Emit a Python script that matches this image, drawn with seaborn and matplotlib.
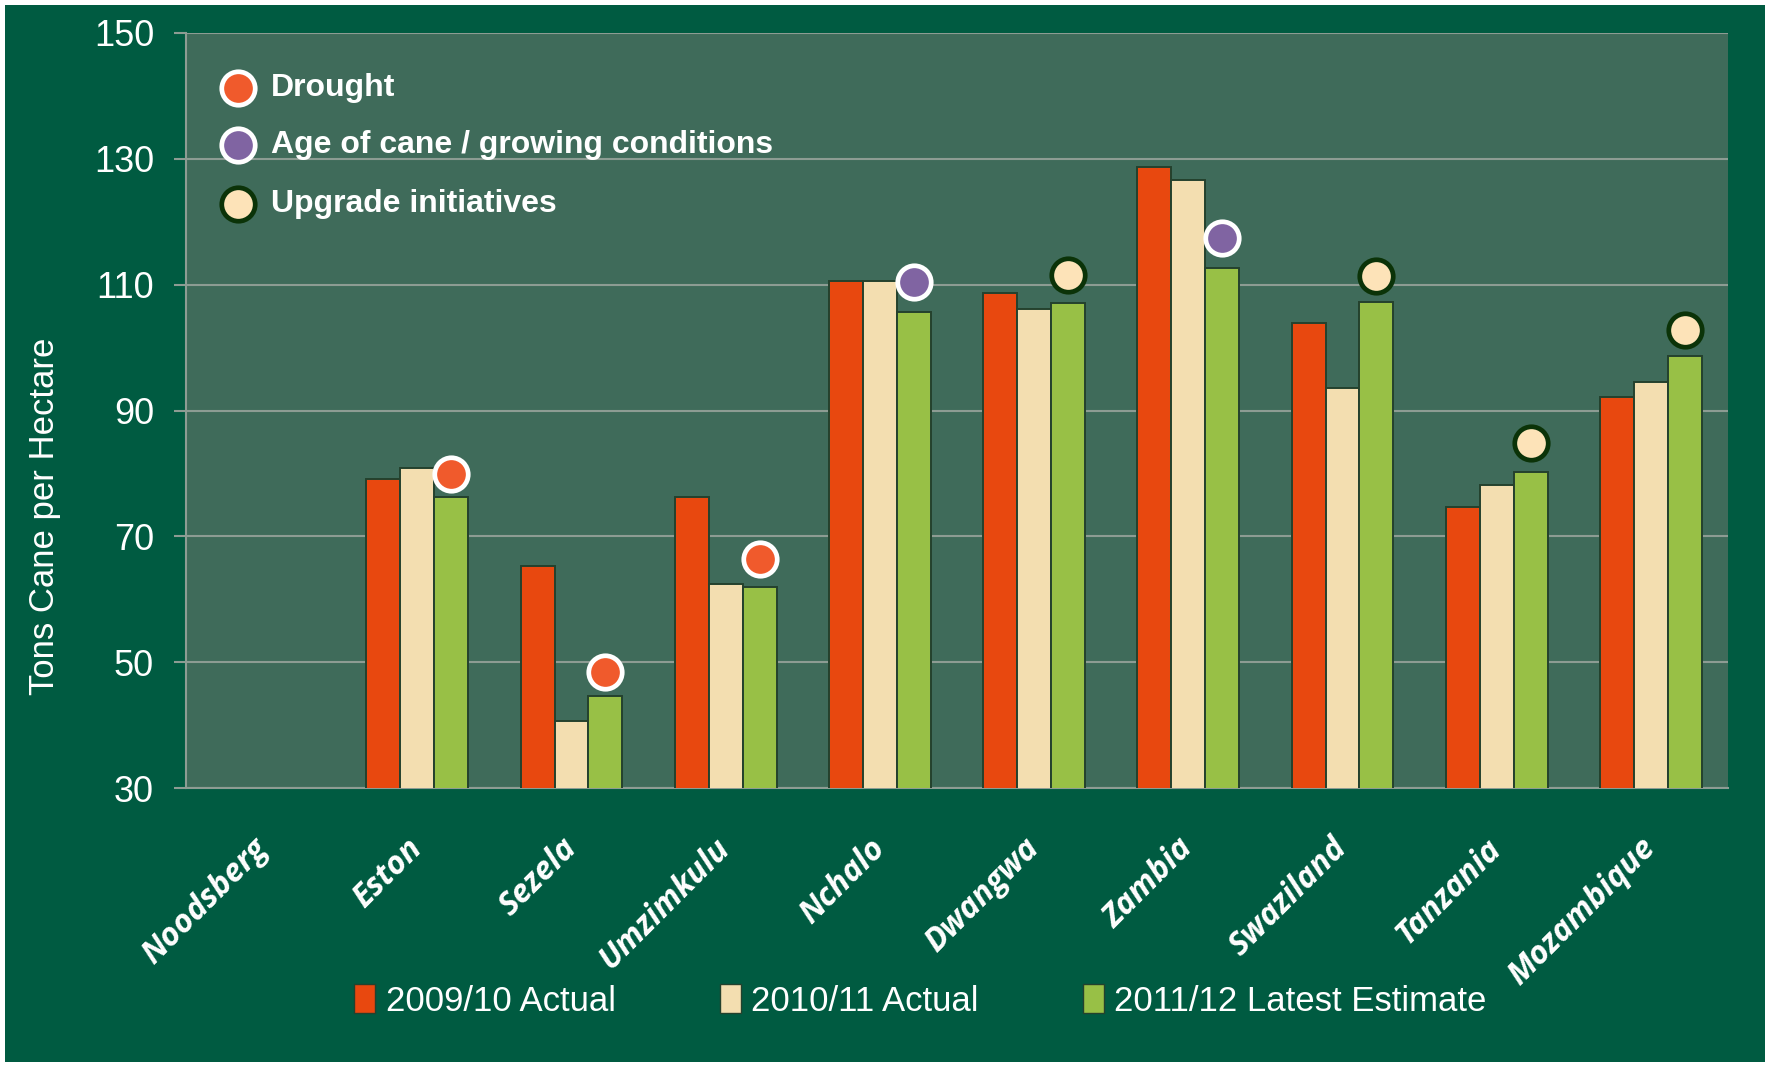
import numpy as np
import pandas as pd
import matplotlib
matplotlib.use("Agg")
import matplotlib.pyplot as plt
import matplotlib.transforms as mtransforms
import seaborn as sns
from matplotlib.patches import Rectangle, Patch

categories = ["Noodsberg", "Eston", "Sezela", "Umzimkulu", "Nchalo", "Dwangwa",
              "Zambia", "Swaziland", "Tanzania", "Mozambique"]
series_names = ["2009/10 Actual", "2010/11 Actual", "2011/12 Latest Estimate"]
actual_0910 = [np.nan, 79.1, 65.3, 76.3, 110.6, 108.6, 128.7, 103.9, 74.7, 92.2]
actual_1011 = [np.nan, 80.9, 40.6, 62.5, 110.6, 106.2, 126.7, 93.5, 78.1, 94.6]
estimate_1112 = [np.nan, 76.3, 44.7, 61.9, 105.7, 107.1, 112.7, 107.3, 80.2, 98.7]

marker_labels = ["Drought", "Age of cane / growing conditions", "Upgrade initiatives"]
marker_cats = ["Eston", "Sezela", "Umzimkulu", "Nchalo", "Dwangwa", "Zambia",
               "Swaziland", "Tanzania", "Mozambique"]
marker_vals = [79.9, 48.5, 66.4, 110.5, 111.6, 117.4, 111.4, 84.9, 102.8]
marker_kind = ["Drought", "Drought", "Drought", "Age of cane / growing conditions",
               "Upgrade initiatives", "Age of cane / growing conditions",
               "Upgrade initiatives", "Upgrade initiatives", "Upgrade initiatives"]

y_ticks = [30, 50, 70, 90, 110, 130, 150]

bar_colors = ["#e8480f", "#f3deb0", "#98c046"]
marker_style = {
    "Drought": ("#f05a2c", "white"),
    "Age of cane / growing conditions": ("#8064a2", "white"),
    "Upgrade initiatives": ("#fde3b8", "#0b3308"),
}

OUTER = "#005b41"
PLOT_BG = "#3f6b5a"
GRID = "#8d9c93"
NARROW = ["Liberation Sans Narrow", "Liberation Sans", "DejaVu Sans"]

sns.set_theme(style="white")
plt.rcParams["font.family"] = ["Liberation Sans", "DejaVu Sans"]

df = pd.DataFrame({
    "category": categories * 3,
    "series": sum([[s] * len(categories) for s in series_names], []),
    "value": actual_0910 + actual_1011 + estimate_1112,
})

fig = plt.figure(figsize=(17.7, 10.67), dpi=100, facecolor="white")
fig.patches.append(Rectangle((5 / 1770, 5 / 1067), 1 - 10 / 1770, 1 - 10 / 1067,
                             transform=fig.transFigure, facecolor=OUTER,
                             edgecolor="none", zorder=-10))
ax = fig.add_axes([186 / 1770, 1 - 788 / 1067, 1542 / 1770, 755 / 1067])
ax.set_facecolor(PLOT_BG)

sns.barplot(data=df, x="category", y="value", hue="series", order=categories,
            hue_order=series_names, palette=bar_colors, saturation=1,
            width=0.66, gap=0, edgecolor="#24412d", linewidth=1.4, ax=ax,
            legend=False, zorder=3)

# markers above the third bar in each group
offset = 0.22
for cat, val, kind in zip(marker_cats, marker_vals, marker_kind):
    fc, ec = marker_style[kind]
    ax.scatter(categories.index(cat) + offset, val, s=580, c=fc, edgecolors=ec,
               linewidths=3.4, zorder=5)

ax.set_ylim(30, 150)
ax.set_xlim(-0.5, len(categories) - 0.5)
ax.set_yticks(y_ticks)
ax.set_yticklabels([str(t) for t in y_ticks], color="white", fontsize=26,
                   family=NARROW)
ax.yaxis.grid(True, color=GRID, linewidth=1.5, zorder=0)
ax.set_axisbelow(True)

ax.set_xticks(range(len(categories)))
ax.set_xticklabels(categories, rotation=45, ha="right", va="center",
                   rotation_mode="anchor", color="white", fontsize=23,
                   fontweight="bold", fontstyle="italic",
                   family=["Open Sans", "DejaVu Sans"])
shift = mtransforms.ScaledTranslation(8 / 100, 0, fig.dpi_scale_trans)
for lbl in ax.get_xticklabels():
    lbl.set_transform(lbl.get_transform() + shift)
ax.set_xticks(np.arange(-0.5, len(categories)), minor=True)
ax.tick_params(axis="x", which="major", length=0, pad=40)
ax.tick_params(axis="x", which="minor", length=9, width=1.5, color=GRID,
               direction="out")
ax.tick_params(axis="y", length=9, width=1.5, color=GRID, direction="out", pad=14)
ax.tick_params(left=True, bottom=True)

for side in ["top", "right"]:
    ax.spines[side].set_visible(False)
for side in ["left", "bottom"]:
    ax.spines[side].set_color(GRID)
    ax.spines[side].set_linewidth(1.5)

ax.set_xlabel("")
ax.set_ylabel("Tons Cane per Hectare", color="white", fontsize=25,
              family=NARROW)
ax.yaxis.set_label_coords(-0.081, 0.36)

# marker key at top-left
key_y = [0.927, 0.851, 0.774]
for lbl, yk in zip(marker_labels, key_y):
    fc, ec = marker_style[lbl]
    ax.scatter(0.034, yk, s=580, c=fc, edgecolors=ec, linewidths=3.4,
               transform=ax.transAxes, zorder=6, clip_on=False)
    ax.text(0.055, yk, lbl, transform=ax.transAxes, color="white",
            fontsize=23, fontweight="bold", va="center", ha="left", zorder=6)

handles = [Patch(facecolor=c, edgecolor="#24412d") for c in bar_colors]
leg = fig.legend(handles, series_names, loc="center",
                 bbox_to_anchor=(0.52, 0.062), ncol=3, frameon=False,
                 handlelength=0.6, handleheight=0.9, handletextpad=0.3,
                 columnspacing=3.0, prop={"family": NARROW, "size": 25})
for t in leg.get_texts():
    t.set_color("white")

fig.savefig("out.png", dpi=100, facecolor=fig.get_facecolor())
